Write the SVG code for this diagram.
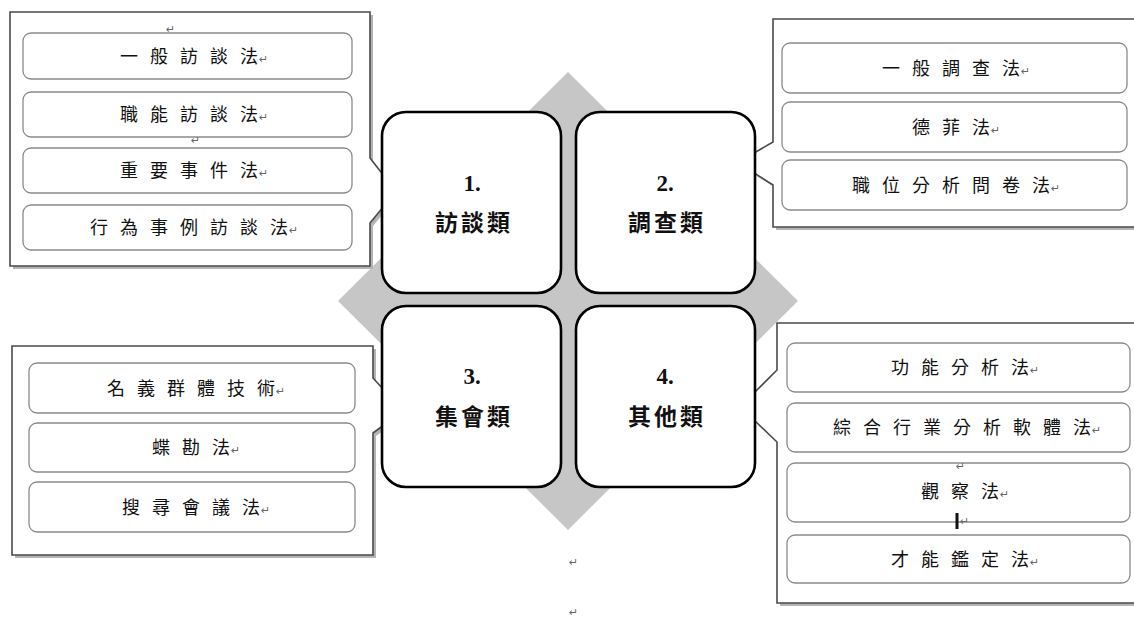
<svg xmlns="http://www.w3.org/2000/svg" width="1134" height="618" viewBox="0 0 1134 618">
<style>
.bg{fill:#ffffff}
.shadow{fill:#b4b4b4}
.callout{fill:#ffffff;stroke:#4a4a4a;stroke-width:1.6}
.item{fill:#ffffff;stroke:#8a8a8a;stroke-width:1.3}
.quad{fill:#ffffff;stroke:#000000;stroke-width:2.6}
.itxt{font-family:"Noto Sans CJK TC","Noto Sans CJK SC",sans-serif;font-size:18px;letter-spacing:12px;fill:#111;text-anchor:middle}
.last{letter-spacing:0}
.qtxt{font-family:"Liberation Serif","Noto Sans CJK TC",serif;font-size:23px;font-weight:bold;fill:#111;text-anchor:middle}
.mark{font-family:"DejaVu Sans",sans-serif;font-size:11px;fill:#666;letter-spacing:0}
</style>
<rect class="bg" x="0" y="0" width="1134" height="618"/>
<polygon id="diamond" points="568,72 798,301 568,530 338,301" fill="#c6c6c6"/>

<g id="connectors">
  <path class="shadow" transform="translate(3,3)" d="M10,12 H370 V158 L384,176 L384,206 L370,223 V266 H10 Z"/>
  <path class="callout" d="M10,12 H370 V158 L384,176 L384,206 L370,223 V266 H10 Z"/>
  <path class="shadow" transform="translate(3,3)" d="M773,19 H1140 V227 H773 V185 L754,173 L754,153 L773,142 Z"/>
  <path class="callout" d="M773,19 H1140 V227 H773 V185 L754,173 L754,153 L773,142 Z"/>
  <path class="shadow" transform="translate(3,3)" d="M12,346 H373 V378 L384,390 L384,425 L373,433 V555 H12 Z"/>
  <path class="callout" d="M12,346 H373 V378 L384,390 L384,425 L373,433 V555 H12 Z"/>
  <path class="shadow" transform="translate(3,3)" d="M777,323 H1140 V603 H777 V442 L754,420 L754,393 L777,370 Z"/>
  <path class="callout" d="M777,323 H1140 V603 H777 V442 L754,420 L754,393 L777,370 Z"/>
</g>

<g id="q1">
  <rect class="quad" x="382" y="112" width="179" height="181" rx="24"/>
  <text class="qtxt" x="472" y="191">1.</text>
  <text class="qtxt" x="474" y="231" letter-spacing="3">訪談類</text>
</g>
<g id="q2">
  <rect class="quad" x="576" y="112" width="179" height="181" rx="24"/>
  <text class="qtxt" x="665" y="191">2.</text>
  <text class="qtxt" x="667" y="231" letter-spacing="3">調查類</text>
</g>
<g id="q3">
  <rect class="quad" x="382" y="306" width="179" height="181" rx="24"/>
  <text class="qtxt" x="472" y="384">3.</text>
  <text class="qtxt" x="474" y="425" letter-spacing="3">集會類</text>
</g>
<g id="q4">
  <rect class="quad" x="576" y="306" width="179" height="181" rx="24"/>
  <text class="qtxt" x="665" y="384">4.</text>
  <text class="qtxt" x="667" y="425" letter-spacing="3">其他類</text>
</g>

<g id="list1">
  <rect class="item" x="23" y="33" width="329" height="46" rx="8"/>
  <text class="itxt" x="194" y="63">一般訪談<tspan class="last">法</tspan><tspan class="mark" dx="1">↵</tspan></text>
  <rect class="item" x="23" y="92" width="329" height="45" rx="8"/>
  <text class="itxt" x="194" y="121">職能訪談<tspan class="last">法</tspan><tspan class="mark" dx="1">↵</tspan></text>
  <rect class="item" x="23" y="148" width="329" height="45" rx="8"/>
  <text class="itxt" x="194" y="177">重要事件<tspan class="last">法</tspan><tspan class="mark" dx="1">↵</tspan></text>
  <rect class="item" x="23" y="205" width="329" height="45" rx="8"/>
  <text class="itxt" x="194" y="234">行為事例訪談<tspan class="last">法</tspan><tspan class="mark" dx="1">↵</tspan></text>
  <text class="mark" x="166" y="33">↵</text>
  <text class="mark" x="191" y="144">↵</text>
</g>

<g id="list2">
  <rect class="item" x="782" y="43" width="345" height="50" rx="8"/>
  <text class="itxt" x="956" y="75">一般調查<tspan class="last">法</tspan><tspan class="mark" dx="1">↵</tspan></text>
  <rect class="item" x="782" y="102" width="345" height="50" rx="8"/>
  <text class="itxt" x="956" y="134">德菲<tspan class="last">法</tspan><tspan class="mark" dx="1">↵</tspan></text>
  <rect class="item" x="782" y="160" width="345" height="50" rx="8"/>
  <text class="itxt" x="956" y="192">職位分析問卷<tspan class="last">法</tspan><tspan class="mark" dx="1">↵</tspan></text>
</g>

<g id="list3">
  <rect class="item" x="29" y="363" width="326" height="50" rx="8"/>
  <text class="itxt" x="196" y="395">名義群體技<tspan class="last">術</tspan><tspan class="mark" dx="1">↵</tspan></text>
  <rect class="item" x="29" y="423" width="326" height="49" rx="8"/>
  <text class="itxt" x="196" y="454">蝶勘<tspan class="last">法</tspan><tspan class="mark" dx="1">↵</tspan></text>
  <rect class="item" x="29" y="482" width="326" height="50" rx="8"/>
  <text class="itxt" x="196" y="514">搜尋會議<tspan class="last">法</tspan><tspan class="mark" dx="1">↵</tspan></text>
</g>

<g id="list4">
  <rect class="item" x="787" y="343" width="343" height="49" rx="8"/>
  <text class="itxt" x="965" y="374">功能分析<tspan class="last">法</tspan><tspan class="mark" dx="1">↵</tspan></text>
  <rect class="item" x="787" y="403" width="343" height="49" rx="8"/>
  <text class="itxt" x="967" y="434">綜合行業分析軟體<tspan class="last">法</tspan><tspan class="mark" dx="1">↵</tspan></text>
  <rect class="item" x="787" y="463" width="343" height="59" rx="8"/>
  <text class="itxt" x="965" y="498">觀察<tspan class="last">法</tspan><tspan class="mark" dx="1">↵</tspan></text>
  <rect class="item" x="787" y="535" width="343" height="48" rx="8"/>
  <text class="itxt" x="965" y="566">才能鑑定<tspan class="last">法</tspan><tspan class="mark" dx="1">↵</tspan></text>
  <text class="mark" x="956" y="470">↵</text>
  <rect x="955.5" y="513" width="3" height="16" fill="#111"/>
  <text class="mark" x="960" y="525">↵</text>
</g>

<g id="marks">
  <text class="mark" x="569" y="566">↵</text>
  <text class="mark" x="569" y="616">↵</text>
</g>
</svg>
